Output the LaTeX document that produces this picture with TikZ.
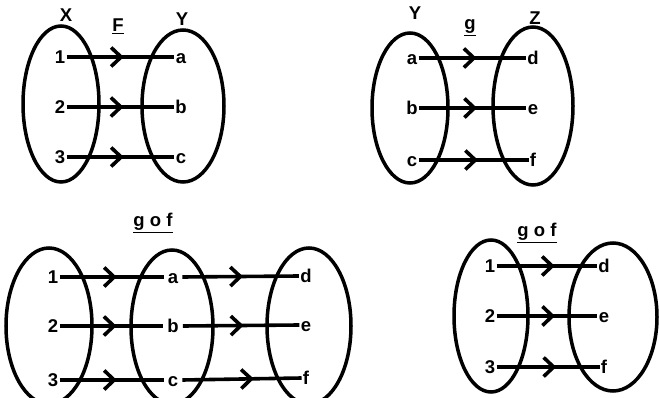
\documentclass[tikz,border=0pt]{standalone}
\usepackage{fontspec}
\setmainfont{Liberation Sans}
\usetikzlibrary{shapes.geometric,arrows.meta,decorations.markings}
\begin{document}
\begin{tikzpicture}[x=1pt,y=-1pt,
  lbl/.style={font=\fontsize{18.5}{20}\selectfont\bfseries, inner sep=1.2pt, text height=13pt, text depth=0pt},
  setell/.style={draw, ellipse, line width=3.5pt, inner sep=0pt},
  mapline/.style={line width=3.6pt, postaction={decorate},
    decoration={markings, mark=at position #1 with {\arrow{Straight Barb[length=10pt,width=19pt,line width=3.6pt]}}}}]
\useasboundingbox (0,0) rectangle (659,398);
\clip (0,0) rectangle (659,398);
% ---------- diagram 1: F : X -> Y
\node[setell, minimum width=76pt, minimum height=156pt] (e1X) at (61,104) {};
\node[setell, minimum width=82pt, minimum height=152pt] (e1Y) at (183,106) {};
\node[lbl] (t1X) at (66,15) {X};
\node[lbl] (t1F) at (118,25) {\underline{F}};
\node[lbl] (t1Y) at (182,19) {Y};
\node[lbl] (p1a) at (60,57) {1};
\node[lbl] (p1b) at (60,107) {2};
\node[lbl] (p1c) at (60,157) {3};
\node[lbl] (q1a) at (181,57) {a};
\node[lbl] (q1b) at (181,107) {b};
\node[lbl] (q1c) at (181,157) {c};
\draw[mapline=0.53] (p1a.east) -- (q1a.west);
\draw[mapline=0.53] (p1b.east) -- (q1b.west);
\draw[mapline=0.53] (p1c.east) -- (q1c.west);
% ---------- diagram 2: g : Y -> Z
\node[setell, minimum width=76pt, minimum height=150pt] (e2Y) at (410,108) {};
\node[setell, minimum width=80pt, minimum height=158pt] (e2Z) at (533,106) {};
\node[lbl] (t2Y) at (415,13) {Y};
\node[lbl] (t2g) at (470,23) {\underline{g}};
\node[lbl] (t2Z) at (535,18) {Z};
\node[lbl] (p2a) at (412,58) {a};
\node[lbl] (p2b) at (412,108) {b};
\node[lbl] (p2c) at (412,160) {c};
\node[lbl] (q2a) at (533,58) {d};
\node[lbl] (q2b) at (533,108) {e};
\node[lbl] (q2c) at (533,160) {f};
\draw[mapline=0.54] (p2a.east) -- (q2a.west);
\draw[mapline=0.54] (p2b.east) -- (q2b.west);
\draw[mapline=0.54] (p2c.east) -- (q2c.west);
% ---------- diagram 3: g o f via Y
\node[lbl] (t3) at (153,220) {\underline{g o f}};
\node[setell, minimum width=86pt, minimum height=156pt] (e3X) at (49,326) {};
\node[setell, minimum width=82pt, minimum height=154pt] (e3Y) at (172,327) {};
\node[setell, minimum width=84pt, minimum height=156pt] (e3Z) at (309,326) {};
\node[lbl] (p3a) at (53,277) {1};
\node[lbl] (p3b) at (53,326) {2};
\node[lbl] (p3c) at (53,380) {3};
\node[lbl, inner sep=4pt] (m3a) at (173,277) {a};
\node[lbl, inner sep=4pt] (m3b) at (173,326) {b};
\node[lbl, inner sep=4pt] (m3c) at (173,380) {c};
\node[lbl] (q3a) at (306,276) {d};
\node[lbl] (q3b) at (306,325) {e};
\node[lbl] (q3c) at (306,378) {f};
\draw[mapline=0.55] (p3a.east) -- (m3a.west);
\draw[mapline=0.55] (p3b.east) -- (m3b.west);
\draw[mapline=0.55] (p3c.east) -- (m3c.west);
\draw[mapline=0.52] (m3a.east) -- (q3a.west);
\draw[mapline=0.52] (m3b.east) -- (q3b.west);
\draw[mapline=0.6] (m3c.east) -- (q3c.west);
% ---------- diagram 4: g o f : X -> Z
\node[lbl] (t4) at (537,230) {\underline{g o f}};
\node[setell, minimum width=74pt, minimum height=152pt] (e4X) at (491,316) {};
\node[setell, minimum width=88pt, minimum height=148pt] (e4Z) at (613,317) {};
\node[lbl] (p4a) at (490,266) {1};
\node[lbl] (p4b) at (490,316) {2};
\node[lbl] (p4c) at (490,367) {3};
\node[lbl] (q4a) at (604,266) {d};
\node[lbl] (q4b) at (604,316) {e};
\node[lbl] (q4c) at (604,367) {f};
\draw[mapline=0.58] (p4a.east) -- (q4a.west);
\draw[mapline=0.58] (p4b.east) -- (q4b.west);
\draw[mapline=0.58] (p4c.east) -- (q4c.west);
\end{tikzpicture}
\end{document}
